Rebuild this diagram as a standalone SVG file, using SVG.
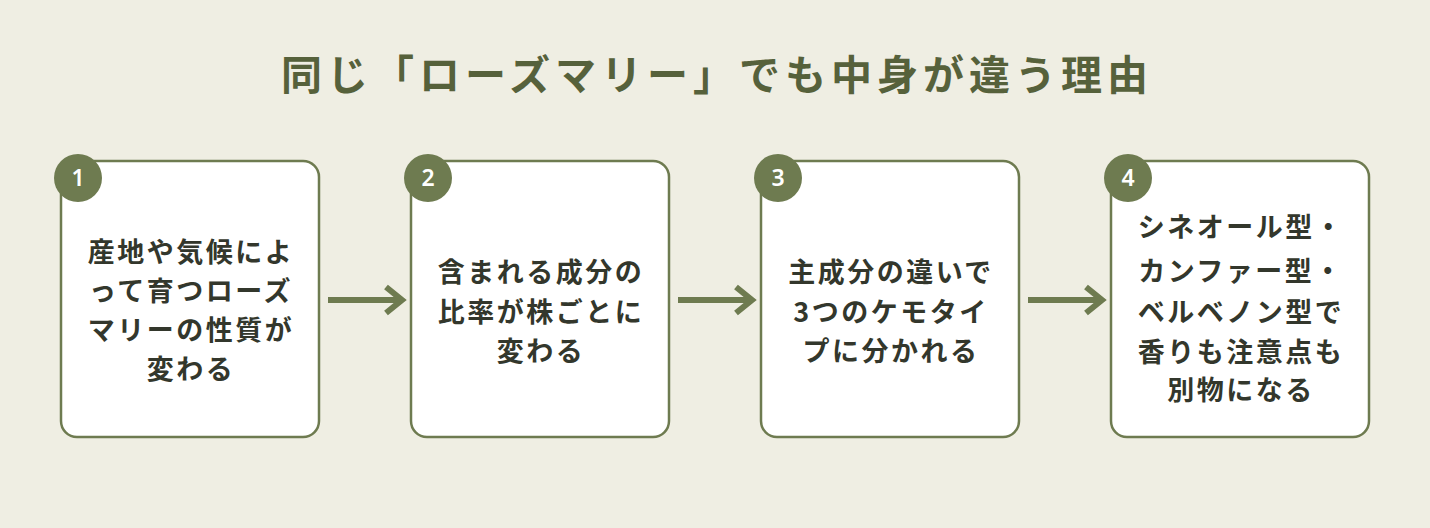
<svg xmlns="http://www.w3.org/2000/svg" width="1430" height="528" viewBox="0 0 1430 528">
<style>
.title{font-family:"Noto Sans CJK JP","Noto Sans CJK SC",sans-serif;font-size:41px;font-weight:700;fill:#56613b;letter-spacing:5px}
.box{fill:#ffffff;stroke:#6e7b50;stroke-width:2.5}
.badge{fill:#6e7b50}
.num{font-family:"Noto Sans","Noto Sans CJK JP",sans-serif;font-size:23px;font-weight:600;fill:#ffffff}
.t{font-family:"Noto Sans CJK JP","Noto Sans CJK SC",sans-serif;font-size:27px;font-weight:700;fill:#33372c;letter-spacing:2.5px}
.arr{fill:none;stroke:#6e7b50;stroke-width:6}
</style>
<rect width="1430" height="528" fill="#efeee3"/>
<text class="title" x="717" y="90" text-anchor="middle">同じ「ローズマリー」でも中身が違う理由</text>
<g id="connectors">
<path class="arr" d="M328 300H402M386 287L402 300L386 313"/>
<path class="arr" d="M678 300H752M736 287L752 300L736 313"/>
<path class="arr" d="M1028 300H1102M1086 287L1102 300L1086 313"/>
</g>
<g id="node1">
<rect class="box" x="61" y="161" width="258" height="276" rx="16"/>
<circle class="badge" cx="78" cy="178" r="24"/>
<text class="num" x="78" y="186" text-anchor="middle">1</text>
<text class="t" text-anchor="middle"><tspan x="191" y="262">産地や気候によ</tspan><tspan x="191" y="301">って育つローズ</tspan><tspan x="191" y="340">マリーの性質が</tspan><tspan x="191" y="379">変わる</tspan></text>
</g>
<g id="node2">
<rect class="box" x="411" y="161" width="258" height="276" rx="16"/>
<circle class="badge" cx="428" cy="178" r="24"/>
<text class="num" x="428" y="186" text-anchor="middle">2</text>
<text class="t" text-anchor="middle"><tspan x="541" y="282">含まれる成分の</tspan><tspan x="541" y="322">比率が株ごとに</tspan><tspan x="541" y="361">変わる</tspan></text>
</g>
<g id="node3">
<rect class="box" x="761" y="161" width="258" height="276" rx="16"/>
<circle class="badge" cx="778" cy="178" r="24"/>
<text class="num" x="778" y="186" text-anchor="middle">3</text>
<text class="t" text-anchor="middle"><tspan x="891" y="282">主成分の違いで</tspan><tspan x="891" y="322">3つのケモタイ</tspan><tspan x="891" y="361">プに分かれる</tspan></text>
</g>
<g id="node4">
<rect class="box" x="1111" y="161" width="258" height="276" rx="16"/>
<circle class="badge" cx="1128" cy="178" r="24"/>
<text class="num" x="1128" y="186" text-anchor="middle">4</text>
<text class="t" text-anchor="middle"><tspan x="1241" y="237">シネオール型・</tspan><tspan x="1241" y="281">カンファー型・</tspan><tspan x="1241" y="322">ベルベノン型で</tspan><tspan x="1241" y="362">香りも注意点も</tspan><tspan x="1241" y="400">別物になる</tspan></text>
</g>
</svg>
